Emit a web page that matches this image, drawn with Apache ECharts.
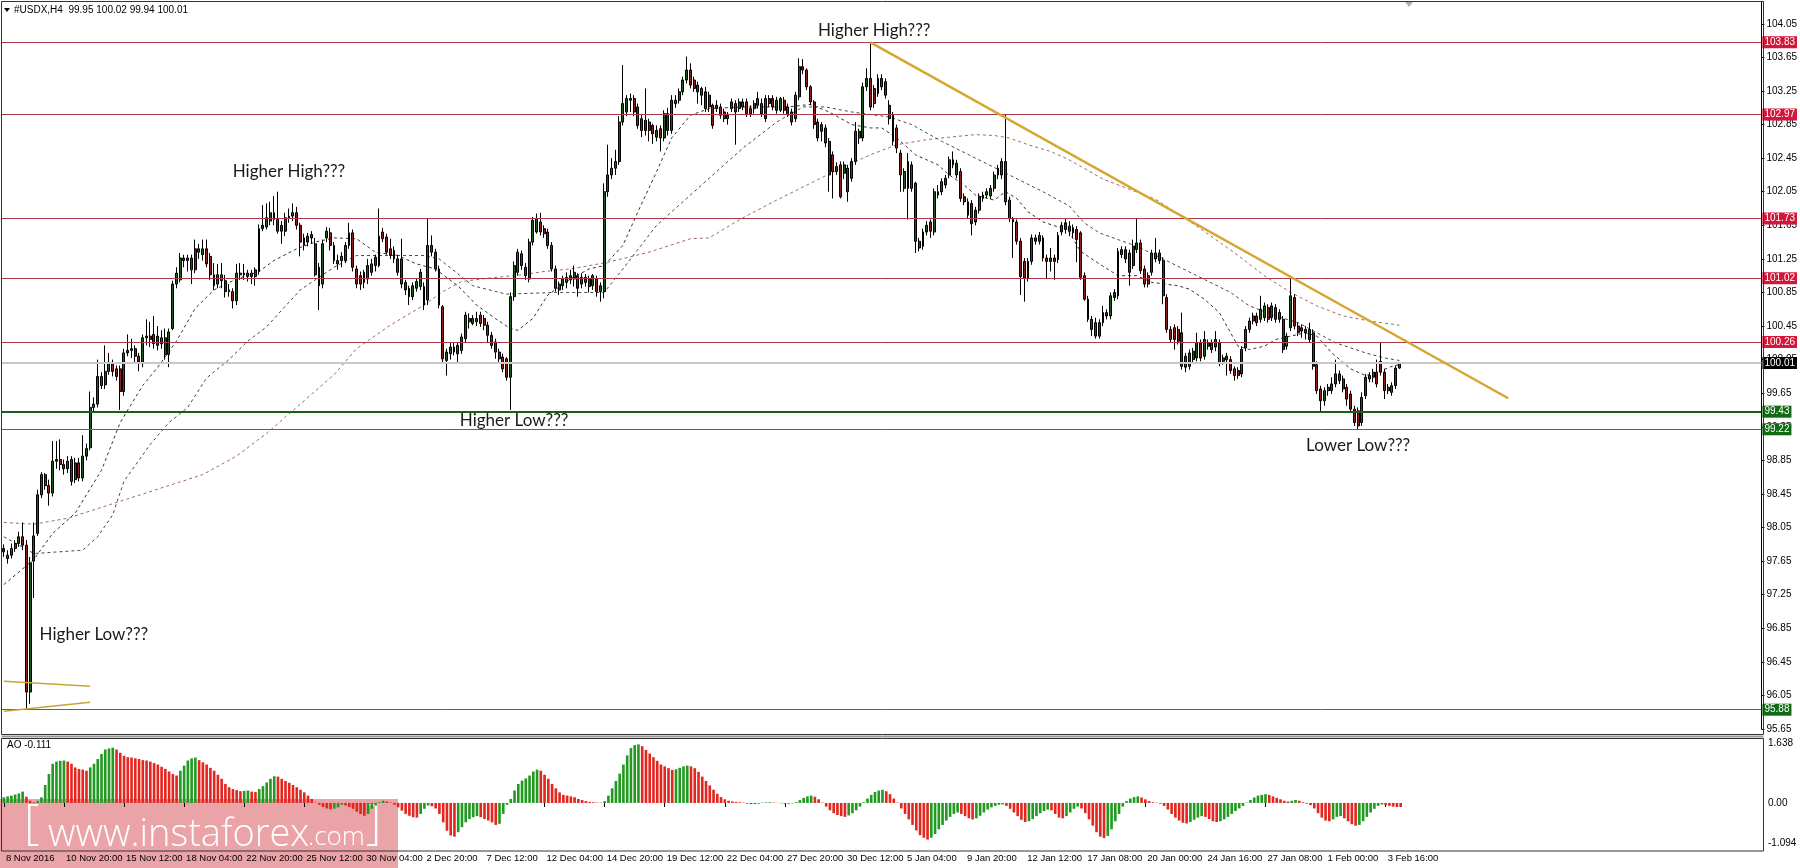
<!DOCTYPE html>
<html><head><meta charset="utf-8">
<script src="https://cdn.jsdelivr.net/npm/echarts@6/dist/echarts.min.js"></script>
<style>html,body{margin:0;padding:0;background:#fff}#c{width:1800px;height:868px}</style>
</head><body><div id="c"></div>
<script>
// ---------- data ----------
const xLabels = ['8 Nov 2016','10 Nov 20:00','15 Nov 12:00','18 Nov 04:00','22 Nov 20:00','25 Nov 12:00','30 Nov 04:00','2 Dec 20:00','7 Dec 12:00','12 Dec 04:00','14 Dec 20:00','19 Dec 12:00','22 Dec 04:00','27 Dec 20:00','30 Dec 12:00','5 Jan 04:00','9 Jan 20:00','12 Jan 12:00','17 Jan 08:00','20 Jan 00:00','24 Jan 16:00','27 Jan 08:00','1 Feb 00:00','3 Feb 16:00'];
const barsPerLabel = 16;
const slotCount = 469;

// candles: [open, close, low, high]
const candles = [
[97.80,97.76,97.70,97.85],[97.68,97.72,97.62,97.78],[97.72,97.80,97.68,97.86],[97.80,97.86,97.76,97.90],[97.86,97.94,97.82,98.00],
[97.94,97.84,97.78,98.11],[97.84,96.09,95.88,97.90],[96.09,97.63,95.95,97.70],[97.65,97.95,97.21,98.11],[97.98,98.44,97.95,98.50],
[98.44,98.68,98.40,98.71],[98.68,98.55,98.50,98.70],[98.55,98.46,98.31,98.62],[98.46,98.84,98.42,99.08],[98.84,98.86,98.75,99.08],
[98.86,98.80,98.73,99.10],[98.80,98.75,98.68,98.86],[98.75,98.84,98.70,98.90],[98.86,98.60,98.55,98.90],[98.82,98.62,98.58,98.88],
[98.82,98.64,98.60,98.88],[98.64,98.90,98.60,99.15],[98.90,98.99,98.85,99.05],[99.00,99.48,98.97,99.67],[99.48,99.52,99.43,99.60],
[99.52,99.85,99.48,100.05],[99.74,99.85,99.70,99.90],[99.75,99.91,99.70,100.22],[99.91,100.02,99.87,100.13],[100.00,99.91,99.85,100.05],
[99.94,99.85,99.80,99.98],[99.94,99.67,99.45,99.98],[99.67,100.13,99.62,100.18],[100.13,100.16,100.09,100.35],[100.16,100.18,100.07,100.30],
[100.18,100.09,100.02,100.22],[100.09,100.02,99.91,100.13],[100.00,100.31,99.96,100.35],[100.31,100.33,100.22,100.53],[100.33,100.29,100.20,100.50],
[100.24,100.35,100.18,100.57],[100.33,100.22,100.16,100.45],[100.24,100.31,100.18,100.40],[100.31,100.11,100.05,100.42],[100.11,100.38,99.96,100.42],
[100.42,100.95,100.40,100.99],[100.95,101.08,100.90,101.15],[101.00,101.26,100.97,101.32],[101.26,101.23,101.15,101.30],[101.23,101.26,101.10,101.30],
[101.26,101.12,100.95,101.30],[101.12,101.37,101.08,101.48],[101.33,101.37,101.25,101.43],[101.30,101.37,101.23,101.48],[101.37,101.19,101.15,101.48],
[101.28,101.06,101.00,101.32],[101.06,100.93,100.88,101.20],[100.95,101.06,100.90,101.19],[101.06,100.99,100.90,101.20],[100.99,100.86,100.79,101.06],
[100.86,100.88,100.80,100.95],[100.86,100.75,100.66,100.90],[100.75,101.08,100.70,101.19],[101.06,101.08,101.00,101.20],[101.08,101.06,101.00,101.19],
[101.04,101.08,100.98,101.12],[101.08,101.04,100.95,101.12],[101.04,101.12,100.93,101.15],[101.10,101.61,101.06,101.66],[101.61,101.65,101.58,101.89],
[101.63,101.74,101.60,101.91],[101.70,101.80,101.65,101.93],[101.80,101.72,101.65,102.00],[101.72,101.58,101.55,102.05],[101.65,101.58,101.43,101.70],
[101.58,101.74,101.52,101.80],[101.74,101.76,101.68,101.85],[101.76,101.80,101.70,101.91],[101.80,101.65,101.60,101.87],[101.65,101.45,101.28,101.68],
[101.50,101.41,101.35,101.55],[101.45,101.52,101.40,101.56],[101.50,101.54,101.43,101.58],[101.43,101.06,101.04,101.50],[101.15,100.93,100.64,101.20],
[100.95,101.43,100.90,101.48],[101.50,101.58,101.45,101.63],[101.56,101.41,101.35,101.62],[101.41,101.23,101.19,101.45],[101.19,101.23,101.12,101.30],
[101.23,101.28,101.15,101.33],[101.23,101.41,101.20,101.45],[101.41,101.56,101.37,101.68],[101.56,101.15,101.10,101.60],[101.13,100.95,100.90,101.17],
[101.05,100.95,100.88,101.10],[100.97,101.09,100.90,101.12],[101.01,101.17,100.95,101.25],[101.09,101.19,101.05,101.25],[101.17,101.27,101.10,101.30],
[101.17,101.52,101.15,101.85],[101.57,101.49,101.45,101.62],[101.51,101.33,101.30,101.55],[101.37,101.29,101.25,101.49],[101.25,101.35,101.20,101.40],
[101.25,101.09,101.05,101.30],[101.25,100.95,100.90,101.49],[100.97,100.88,100.82,101.00],[100.90,100.80,100.70,100.93],[100.80,100.93,100.76,100.97],
[100.90,100.98,100.86,101.02],[100.92,101.09,100.88,101.13],[100.92,100.70,100.64,100.97],[100.76,101.41,100.70,101.73],[101.41,101.33,101.28,101.53],
[101.33,101.13,101.10,101.37],[101.13,100.70,100.66,101.17],[100.68,100.06,100.02,100.70],[100.04,100.14,99.86,100.18],[100.12,100.20,100.05,100.25],
[100.14,100.20,100.10,100.26],[100.12,100.22,100.00,100.26],[100.16,100.32,100.12,100.36],[100.30,100.58,100.26,100.62],[100.54,100.50,100.42,100.60],
[100.48,100.54,100.46,100.58],[100.50,100.54,100.45,100.62],[100.58,100.48,100.44,100.62],[100.54,100.46,100.40,100.58],[100.46,100.34,100.26,100.50],
[100.34,100.22,100.18,100.38],[100.26,100.14,100.06,100.30],[100.14,100.06,100.00,100.18],[100.08,99.94,99.90,100.12],[100.06,99.84,99.80,100.08],
[99.84,100.80,99.45,100.85],[100.80,101.17,100.75,101.22],[101.09,101.33,101.05,101.37],[101.31,101.17,101.12,101.35],[101.15,101.05,101.00,101.20],
[101.01,101.45,100.97,101.49],[101.45,101.71,101.41,101.75],[101.57,101.73,101.55,101.79],[101.69,101.57,101.53,101.80],[101.61,101.55,101.50,101.65],
[101.57,101.41,101.37,101.61],[101.41,101.13,101.10,101.45],[101.13,100.90,100.86,101.17],[100.95,100.88,100.82,100.98],[100.93,101.01,100.88,101.05],
[100.97,101.03,100.90,101.09],[101.00,101.05,100.95,101.12],[101.01,101.09,100.92,101.17],[101.05,100.90,100.80,101.08],[100.95,101.03,100.90,101.08],
[101.03,100.97,100.92,101.07],[101.01,100.92,100.85,101.05],[100.93,101.05,100.88,101.07],[101.01,100.86,100.80,101.05],[100.86,100.93,100.74,100.97],
[100.86,102.05,100.78,102.15],[102.05,102.25,101.99,102.61],[102.25,102.33,102.20,102.45],[102.33,102.41,102.25,102.55],[102.41,102.88,102.37,102.95],
[102.88,103.10,102.84,103.56],[103.00,103.16,102.95,103.20],[103.16,103.14,103.00,103.22],[103.16,103.00,102.95,103.20],[103.06,102.84,102.80,103.10],
[102.92,102.78,102.70,102.97],[102.90,102.78,102.72,103.28],[102.88,102.78,102.65,102.92],[102.84,102.74,102.62,102.86],[102.70,102.78,102.65,102.84],
[102.80,102.69,102.53,102.84],[102.69,102.98,102.65,103.02],[102.78,102.98,102.72,103.05],[102.78,103.14,102.74,103.20],[103.10,103.14,103.05,103.20],
[103.14,103.24,103.10,103.28],[103.24,103.38,103.20,103.42],[103.38,103.50,103.34,103.66],[103.50,103.32,103.28,103.58],[103.38,103.28,103.24,103.42],
[103.32,103.24,103.10,103.36],[103.28,103.20,103.08,103.30],[103.24,103.04,103.00,103.30],[103.20,103.06,103.00,103.24],[103.08,102.84,102.80,103.10],
[103.04,103.08,103.00,103.14],[103.06,102.96,102.92,103.10],[103.00,102.92,102.88,103.04],[102.96,102.92,102.85,103.00],[103.04,103.12,103.00,103.16],
[103.10,103.00,102.61,103.14],[103.04,103.12,103.00,103.16],[103.06,103.12,103.02,103.16],[103.12,102.98,102.94,103.16],[103.04,102.98,102.94,103.08],
[103.04,103.10,102.98,103.14],[103.16,103.08,103.04,103.24],[103.10,102.98,102.94,103.16],[102.92,103.16,102.88,103.20],[103.10,103.16,103.06,103.20],
[103.16,103.06,103.02,103.20],[103.02,103.14,102.98,103.18],[103.02,103.16,103.00,103.18],[103.14,103.02,102.98,103.18],[103.06,102.98,102.94,103.10],
[103.00,102.88,102.84,103.04],[102.92,103.20,102.88,103.24],[103.18,103.54,103.14,103.64],[103.54,103.50,103.45,103.63],[103.50,103.30,103.26,103.52],
[103.30,103.12,103.08,103.32],[103.12,102.85,102.80,103.14],[102.88,102.69,102.65,102.92],[102.85,102.77,102.65,102.88],[102.81,102.63,102.58,102.85],
[102.65,102.25,102.05,102.69],[102.49,102.29,101.97,102.53],[102.29,102.35,102.25,102.40],[102.37,101.99,101.97,102.41],[102.27,102.37,102.20,102.41],
[102.33,102.05,101.93,102.37],[102.21,102.41,102.17,102.45],[102.41,102.77,102.37,102.88],[102.77,102.69,102.62,102.80],[102.69,103.30,102.65,103.35],
[103.30,103.40,103.25,103.52],[103.40,103.06,103.02,103.83],[103.28,103.10,103.05,103.32],[103.22,103.40,103.18,103.45],[103.40,103.30,103.26,103.45],
[103.36,103.20,103.16,103.40],[103.08,102.92,102.85,103.14],[102.96,102.65,102.60,103.00],[102.81,102.57,102.51,102.85],[102.51,102.25,102.05,102.55],
[102.09,102.29,102.05,102.33],[102.41,102.09,101.72,102.51],[102.09,102.37,102.05,102.41],[102.15,101.46,101.32,102.17],[101.46,101.38,101.34,101.50],
[101.40,101.57,101.36,101.61],[101.57,101.65,101.53,101.70],[101.69,101.58,101.50,101.72],[101.57,102.05,101.53,102.09],[102.01,102.05,101.97,102.13],
[102.05,102.17,102.01,102.21],[102.21,102.13,102.09,102.25],[102.25,102.43,102.21,102.47],[102.43,102.37,102.33,102.53],[102.25,102.39,102.21,102.43],
[102.29,101.97,101.93,102.33],[101.99,101.93,101.89,102.03],[101.93,101.77,101.73,101.97],[101.91,101.67,101.53,101.95],[101.69,101.83,101.65,101.87],
[101.83,101.99,101.79,102.03],[101.97,102.01,101.93,102.05],[102.01,102.05,101.97,102.09],[102.00,102.09,101.96,102.13],[102.09,102.25,102.05,102.29],
[102.25,102.33,102.20,102.37],[102.25,102.41,102.20,102.45],[102.41,101.93,101.89,102.97],[101.95,101.73,101.69,101.99],[101.72,101.69,101.26,101.75],
[101.69,101.46,101.42,101.72],[101.46,101.04,100.82,101.50],[101.22,101.02,100.74,101.26],[101.02,101.22,100.98,101.26],[101.22,101.50,101.18,101.54],
[101.46,101.50,101.42,101.54],[101.46,101.53,101.42,101.57],[101.50,101.26,101.22,101.53],[101.26,101.22,101.02,101.30],[101.22,101.26,101.10,101.38],
[101.26,101.22,101.00,101.30],[101.24,101.53,101.20,101.57],[101.57,101.65,101.53,101.69],[101.60,101.68,101.55,101.73],[101.64,101.58,101.52,101.70],
[101.62,101.56,101.50,101.66],[101.60,101.48,101.21,101.64],[101.56,101.03,101.00,101.58],[101.05,100.77,100.75,101.09],[100.77,100.53,100.50,100.81],
[100.53,100.41,100.33,100.57],[100.33,100.49,100.30,100.55],[100.49,100.33,100.30,100.53],[100.49,100.61,100.45,100.69],[100.61,100.57,100.53,100.65],
[100.57,100.81,100.53,100.85],[100.79,100.85,100.75,100.89],[100.81,101.34,100.77,101.38],[101.30,101.36,101.26,101.40],[101.36,101.25,101.20,101.40],
[101.32,101.09,100.93,101.36],[101.17,101.40,101.13,101.48],[101.36,101.44,101.32,101.73],[101.44,101.11,101.07,101.48],[101.13,100.95,100.91,101.17],
[101.05,100.95,100.91,101.09],[101.09,101.32,101.05,101.36],[101.25,101.32,101.21,101.50],[101.32,101.23,101.19,101.36],[101.23,100.81,100.71,101.27],
[100.79,100.41,100.37,100.83],[100.41,100.29,100.25,100.45],[100.43,100.29,100.17,100.47],[100.41,100.27,100.23,100.45],[100.37,99.97,99.93,100.61],
[100.09,99.96,99.90,100.13],[99.97,100.13,99.93,100.17],[100.15,100.05,100.01,100.19],[100.07,100.25,100.03,100.37],[100.25,100.07,100.03,100.29],
[100.09,100.29,100.05,100.39],[100.21,100.25,100.17,100.29],[100.25,100.17,100.13,100.29],[100.20,100.29,100.15,100.39],[100.25,100.01,99.97,100.29],
[100.03,100.07,99.99,100.11],[100.05,100.09,99.86,100.13],[100.05,99.92,99.88,100.09],[99.94,99.86,99.80,99.97],[99.92,99.86,99.82,99.96],
[99.88,100.17,99.84,100.21],[100.19,100.41,100.15,100.45],[100.41,100.51,100.37,100.55],[100.51,100.57,100.47,100.61],[100.57,100.49,100.45,100.61],
[100.53,100.65,100.49,100.81],[100.55,100.69,100.51,100.73],[100.67,100.53,100.49,100.71],[100.69,100.55,100.51,100.73],[100.67,100.53,100.49,100.71],
[100.61,100.53,100.49,100.65],[100.53,100.17,100.13,100.57],[100.21,100.33,100.17,100.37],[100.43,100.81,100.39,101.03],[100.79,100.45,100.41,100.83],
[100.45,100.37,100.33,100.49],[100.43,100.39,100.31,100.47],[100.37,100.41,100.29,100.45],[100.41,100.29,100.25,100.49],[100.37,99.97,99.93,100.41],
[99.99,99.68,99.64,100.03],[99.70,99.56,99.43,99.74],[99.56,99.68,99.50,99.72],[99.68,99.72,99.62,99.76],[99.68,99.76,99.64,99.84],
[99.76,99.88,99.72,100.05],[99.88,99.80,99.76,99.92],[99.82,99.70,99.66,99.86],[99.72,99.58,99.50,99.76],[99.64,99.46,99.42,99.68],
[99.46,99.30,99.26,99.50],[99.44,99.26,99.21,99.48],[99.30,99.60,99.26,99.66],[99.62,99.84,99.58,99.88],[99.82,99.86,99.78,99.90],
[99.84,99.90,99.78,99.94],[99.90,99.76,99.72,100.05],[100.03,99.90,99.86,100.25],[99.90,99.68,99.58,99.94],[99.68,99.72,99.64,99.76],
[99.74,99.66,99.62,99.78],[99.74,99.95,99.70,99.98],[99.95,100.01,99.94,100.02]
];

// Awesome Oscillator histogram values, one per candle
const aoValues = [
0.155,0.18,0.20,0.23,0.26,0.31,0.17,0.06,0.02,0.06,
0.155,0.49,0.79,1.07,1.13,1.15,1.16,1.13,1.07,0.97,
0.93,0.91,0.88,0.97,1.07,1.20,1.34,1.46,1.49,1.51,
1.46,1.37,1.29,1.25,1.24,1.22,1.20,1.17,1.16,1.13,
1.09,1.05,0.99,0.93,0.86,0.79,0.75,0.88,1.02,1.16,
1.22,1.24,1.17,1.11,1.05,0.96,0.88,0.77,0.66,0.52,
0.43,0.38,0.35,0.32,0.33,0.34,0.31,0.30,0.38,0.46,
0.56,0.66,0.73,0.72,0.66,0.60,0.55,0.49,0.43,0.36,
0.29,0.20,0.11,0.01,-0.05,-0.11,-0.15,-0.17,-0.155,-0.12,
-0.05,-0.07,-0.11,-0.16,-0.24,-0.30,-0.35,-0.30,-0.16,-0.07,
0.02,0.06,0.04,0.01,-0.05,-0.12,-0.21,-0.30,-0.35,-0.39,
-0.40,-0.30,-0.16,-0.07,-0.09,-0.15,-0.30,-0.53,-0.76,-0.89,
-0.92,-0.80,-0.66,-0.53,-0.44,-0.39,-0.36,-0.39,-0.44,-0.48,
-0.53,-0.60,-0.57,-0.30,-0.05,0.11,0.34,0.52,0.61,0.67,
0.75,0.86,0.91,0.88,0.77,0.66,0.52,0.40,0.29,0.22,
0.20,0.18,0.155,0.11,0.08,0.05,0.03,0.02,0.01,
0.01,0.05,0.2,0.4,0.6,0.8,1.05,1.3,1.5,1.58,
1.6,1.55,1.45,1.35,1.25,1.15,1.05,1.0,0.95,0.9,
0.92,0.96,1.0,1.02,1.0,0.95,0.85,0.72,0.6,0.48,
0.36,0.25,0.16,0.1,0.06,0.04,0.03,0.02,0.01,-0.02,
-0.03,-0.03,-0.02,0.01,0.015,0.02,0.01,0.005,-0.01,-0.02,
-0.02,-0.01,0.02,0.08,0.14,0.18,0.2,0.17,0.1,0.01,
-0.1,-0.2,-0.28,-0.33,-0.36,-0.38,-0.34,-0.28,-0.2,-0.1,
0.02,0.12,0.22,0.3,0.34,0.36,0.32,0.24,0.12,0.01,
-0.15,-0.3,-0.45,-0.6,-0.75,-0.88,-0.95,-1.0,-0.95,-0.85,
-0.72,-0.6,-0.48,-0.38,-0.3,-0.26,-0.3,-0.36,-0.42,-0.45,
-0.42,-0.35,-0.26,-0.18,-0.12,-0.08,-0.05,-0.04,-0.08,-0.16,
-0.26,-0.36,-0.46,-0.52,-0.5,-0.44,-0.36,-0.28,-0.22,-0.18,
-0.2,-0.3,-0.4,-0.42,-0.36,-0.26,-0.16,-0.1,-0.15,-0.28,
-0.45,-0.62,-0.8,-0.92,-0.96,-0.9,-0.72,-0.5,-0.3,-0.1,
0.05,0.12,0.16,0.18,0.15,0.1,0.05,0.02,0.01,-0.02,
-0.08,-0.18,-0.3,-0.4,-0.48,-0.54,-0.56,-0.52,-0.46,-0.4,
-0.36,-0.38,-0.44,-0.5,-0.52,-0.5,-0.45,-0.38,-0.3,-0.22,
-0.15,-0.08,0.01,0.08,0.15,0.2,0.22,0.24,0.22,0.18,
0.14,0.1,0.06,0.04,0.06,0.08,0.06,0.02,-0.02,-0.06,
-0.15,-0.28,-0.4,-0.48,-0.5,-0.45,-0.38,-0.36,-0.42,-0.5,
-0.58,-0.62,-0.6,-0.5,-0.38,-0.26,-0.16,-0.08,-0.04,-0.06,
-0.08,-0.1,-0.11,-0.111
];

// moving averages: [bar index, price]
const maFast = [[0,97.37],[8,97.67],[13,97.98],[19,98.22],[26,98.73],[31,99.30],[37,99.74],[41,99.96],[46,100.27],[51,100.66],[56,100.88],[62,101.01],[68,101.10],[72,101.23],[78,101.37],[83,101.45],[88,101.50],[94,101.49],[99,101.33],[105,101.29],[110,101.19],[115,101.13],[121,100.93],[126,100.70],[131,100.54],[135,100.42],[137,100.40],[141,100.54],[145,100.82],[151,101.01],[156,101.13],[160,101.17],[165,101.41],[169,101.81],[174,102.29],[178,102.69],[183,102.96],[188,103.04],[197,103.06],[209,103.06],[215,103.09],[220,103.00],[226,102.85],[231,102.81],[234,102.81],[238,102.69],[243,102.49],[249,102.37],[252,102.25],[256,102.13],[259,102.01],[264,101.95],[267,102.05],[270,101.97],[273,101.81],[277,101.69],[281,101.63],[283,101.64],[287,101.34],[292,101.19],[297,101.05],[302,101.05],[306,100.97],[313,100.93],[316,100.89],[320,100.77],[324,100.61],[327,100.37],[329,100.21],[332,100.17],[336,100.21],[339,100.29],[343,100.33],[347,100.37],[350,100.33],[354,100.13],[359,99.94],[363,99.86],[366,99.90],[370,99.97],[372,99.99]];
const maMid = [[0,97.94],[8,97.74],[21,97.78],[25,97.94],[29,98.20],[32,98.60],[39,99.04],[44,99.30],[49,99.48],[54,99.83],[60,100.05],[65,100.27],[70,100.44],[79,100.88],[88,101.15],[94,101.29],[112,101.29],[116,101.25],[125,100.93],[134,100.83],[147,100.85],[160,100.85],[165,101.13],[174,101.65],[183,102.01],[188,102.21],[197,102.57],[206,102.88],[213,103.06],[219,103.06],[226,103.00],[236,102.94],[242,102.85],[250,102.65],[259,102.45],[268,102.25],[277,102.05],[284,101.88],[288,101.68],[292,101.56],[297,101.48],[302,101.40],[309,101.25],[318,101.05],[327,100.85],[332,100.69],[339,100.57],[345,100.49],[350,100.37],[355,100.25],[363,100.13],[368,100.07],[372,100.04]];
const maSlow = [[0,98.11],[8,98.09],[17,98.16],[26,98.29],[35,98.42],[44,98.55],[53,98.68],[62,98.90],[70,99.17],[79,99.52],[88,99.87],[94,100.18],[103,100.46],[112,100.70],[117,100.86],[122,100.98],[129,101.02],[138,101.06],[144,101.10],[151,101.13],[161,101.21],[172,101.33],[183,101.49],[188,101.50],[197,101.74],[206,101.95],[215,102.15],[224,102.35],[231,102.49],[238,102.61],[246,102.67],[252,102.70],[259,102.73],[264,102.72],[268,102.69],[273,102.61],[279,102.53],[284,102.43],[293,102.20],[307,101.96],[318,101.64],[329,101.29],[336,101.05],[343,100.85],[350,100.69],[357,100.57],[364,100.51],[372,100.46]];

// horizontal levels
const resistanceLevels = [103.83, 102.97, 101.73, 101.02, 100.26];
const bidLevel = 100.01;
const supportLevels = [99.43, 99.22, 95.88];
// drawn trend lines: [[bar, price], [bar, price]]
const trendMain = [[231, 103.83], [401, 99.59]];
const trendSmall = [[[0, 96.22], [23, 96.16]], [[0, 95.86], [23, 95.97]]];
// annotations
const noteTexts = ['Higher High???', 'Higher High???', 'Higher Low???', 'Higher Low???', 'Lower Low???'];
const noteBars = [232, 76, 136, 24, 361];
const notePrices = [103.97, 102.29, 99.32, 96.78, 99.03];

// ---------- chart ----------
const cats = Array.from({length: slotCount}, (_, i) => String(i));
const FONT = 'Liberation Sans';
const isLabelIdx = (i) => i % barsPerLabel === 0 && i / barsPerLabel < xLabels.length;

const levelLine = (v, color, width, bg) => ({
  yAxis: v,
  lineStyle: {color: color, width: width, type: 'solid'},
  label: {show: true, position: 'end', distance: 1, formatter: v.toFixed(2), color: '#fff',
    backgroundColor: bg, padding: [1, 2, 0, 2], fontSize: 10, fontFamily: FONT, lineHeight: 11}
});
const markData = [];
resistanceLevels.forEach(v => markData.push(levelLine(v, '#a83a4c', 1, '#d3173b')));
markData.push(levelLine(bidLevel, '#c8c8c8', 2, '#000'));
markData.push(levelLine(supportLevels[0], '#17601a', 2, '#0f6a12'));
markData.push(levelLine(supportLevels[1], '#3c7d3c', 1, '#0f6a12'));
markData.push(levelLine(supportLevels[2], '#3c7d3c', 1, '#0f6a12'));
const seg = (p, color, w) => [
  {coord: [p[0][0], p[0][1]], lineStyle: {color: color, width: w, type: 'solid'}, label: {show: false}},
  {coord: [p[1][0], p[1][1]]}
];
markData.push(seg(trendMain, '#d6a631', 2.5));
trendSmall.forEach(t => markData.push(seg(t, '#c9a537', 1.5)));

const aoData = aoValues.map((v, i) => ({
  value: v,
  itemStyle: {color: (i === 0 || v >= aoValues[i - 1]) ? '#229a22' : '#e3261f'}
}));

const maSeries = (data, color) => ({
  type: 'line', xAxisIndex: 0, yAxisIndex: 0, data: data, symbol: 'none', silent: true,
  lineStyle: {color: color, width: 1, type: [3, 3]}, z: 2
});

const last = candles[candles.length - 1];
const header = '#USDX,H4  ' + [last[0], last[3], last[2], last[1]].map(v => v.toFixed(2)).join(' ');

const option = {
  animation: false,
  backgroundColor: '#fff',
  grid: [
    {left: 2, top: 2, width: 1761, height: 727},
    {left: 2, top: 743, width: 1761, height: 100}
  ],
  xAxis: [
    {type: 'category', gridIndex: 0, data: cats, show: false, boundaryGap: true},
    {type: 'category', gridIndex: 1, data: cats, boundaryGap: true, offset: 8,
      axisLine: {show: false},
      axisTick: {show: true, alignWithLabel: true, length: 4, interval: (i) => isLabelIdx(i), lineStyle: {color: '#000'}},
      axisLabel: {interval: (i) => isLabelIdx(i), formatter: (v, i) => xLabels[i / barsPerLabel] || '',
        align: 'left', margin: 2, fontSize: 9.5, color: '#000', fontFamily: FONT, padding: [0, 0, 0, 2]}}
  ],
  yAxis: [
    {type: 'value', gridIndex: 0, position: 'right', min: 95.65, max: 104.31, interval: 0.4,
      splitLine: {show: false}, axisLine: {show: true, lineStyle: {color: '#000'}},
      axisTick: {show: true, length: 3, lineStyle: {color: '#000'}},
      axisLabel: {fontSize: 10, color: '#000', margin: 5, showMaxLabel: false, fontFamily: FONT,
        formatter: v => v.toFixed(2)}},
    {type: 'value', gridIndex: 1, position: 'right', min: -1.094, max: 1.638, interval: 1.094,
      splitLine: {show: false}, axisLine: {show: true, lineStyle: {color: '#000'}},
      axisTick: {show: false},
      axisLabel: {fontSize: 10, color: '#000', margin: 5, fontFamily: FONT,
        formatter: v => Math.abs(v - 1.094) < 1e-6 ? '' : (Math.abs(v) < 1e-9 ? '0.00' : (Math.abs(v - 1.638) < 1e-6 ? '1.638' : String(v)))}}
  ],
  series: [
    maSeries(maSlow, '#a06868'),
    maSeries(maMid, '#4a4a4a'),
    maSeries(maFast, '#333333'),
    {
      type: 'candlestick', xAxisIndex: 0, yAxisIndex: 0, data: candles, barWidth: 2.4, z: 3,
      itemStyle: {color: '#1d5a1d', color0: '#8c1d1d', borderColor: '#000', borderColor0: '#000', borderWidth: 1},
      markLine: {symbol: ['none', 'none'], silent: true, data: markData, animation: false}
    },
    {
      type: 'scatter', xAxisIndex: 0, yAxisIndex: 0, symbolSize: 1, itemStyle: {color: 'rgba(0,0,0,0)'}, silent: true, z: 6,
      data: noteTexts.map((t, i) => ({name: t, value: [noteBars[i], notePrices[i]]})),
      label: {show: true, position: 'inside', formatter: '{b}', fontSize: 17, fontFamily: 'Lato', color: '#1a1a1a', opacity: 1}
    },
    {
      type: 'bar', xAxisIndex: 1, yAxisIndex: 1, data: aoData, barCategoryGap: '30%', silent: true
    }
  ],
  graphic: [
    {type: 'rect', shape: {x: 1.5, y: 1.5, width: 1762, height: 733}, style: {fill: 'none', stroke: '#333', lineWidth: 1}, z: 10},
    {type: 'rect', shape: {x: 1.5, y: 738.5, width: 1762, height: 112.5}, style: {fill: 'none', stroke: '#333', lineWidth: 1}, z: 10},
    {type: 'line', shape: {x1: 1.5, y1: 736.5, x2: 1763.5, y2: 736.5}, style: {stroke: '#999', lineWidth: 2}, z: 10},
    {type: 'polygon', shape: {points: [[4, 8], [10, 8], [7, 12]]}, style: {fill: '#000'}, z: 10},
    {type: 'text', left: 14, top: 5, style: {text: header, fontSize: 10, fontFamily: FONT, fill: '#000'}, z: 10},
    {type: 'polygon', shape: {points: [[1405, 2], [1413, 2], [1409, 7]]}, style: {fill: '#b0b0b0'}, z: 10},
    {type: 'text', left: 7, top: 740, style: {text: 'AO -0.111', fontSize: 10, fontFamily: FONT, fill: '#000'}, z: 10},
    {type: 'group', z: 20, children: [
      {type: 'rect', shape: {x: 0, y: 799, width: 398, height: 69}, style: {fill: 'rgba(214,72,80,0.5)'}},
      {type: 'text', x: 24, y: 848, style: {text: '[', fontSize: 48, fontFamily: 'Open Sans', fontWeight: 300, fill: '#fff', textVerticalAlign: 'bottom'}},
      {type: 'text', x: 48, y: 854, style: {text: 'www.instaforex', fontSize: 38, fontFamily: 'Open Sans', fontWeight: 300, fill: '#fff', textVerticalAlign: 'bottom'}},
      {type: 'text', x: 308, y: 851, style: {text: '.com', fontSize: 26, fontFamily: 'Open Sans', fontWeight: 300, fill: '#fff', textVerticalAlign: 'bottom'}},
      {type: 'text', x: 366, y: 848, style: {text: ']', fontSize: 48, fontFamily: 'Open Sans', fontWeight: 300, fill: '#fff', textVerticalAlign: 'bottom'}}
    ]}
  ]
};
const chart = echarts.init(document.getElementById('c'), null, {renderer: 'canvas'});
chart.setOption(option);
</script>
</body></html>
